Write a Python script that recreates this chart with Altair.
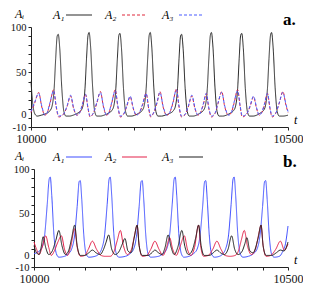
import altair as alt
import pandas as pd

# ---------------- data (t measured from 10000) ----------------
# Panel a
ta1 = [0, 3, 7, 12, 20,
       30, 37, 41, 45, 48, 51, 53, 56, 60, 64, 68, 75, 82,
       90, 97, 101, 105, 108, 111, 113, 116, 120, 124, 128, 135, 142,
       150, 157, 161, 165, 168, 171, 173, 176, 180, 184, 188, 195, 202,
       209, 216, 220, 224, 227, 230, 232, 235, 239, 243, 247, 254, 261,
       270, 277, 281, 285, 288, 291, 293, 296, 300, 304, 308, 315, 322,
       328, 335, 339, 343, 346, 349, 351, 354, 358, 362, 366, 373, 380,
       387, 394, 398, 402, 405, 408, 410, 413, 417, 421, 425, 432, 439,
       445, 452, 456, 460, 463, 466, 468, 471, 475, 479, 483, 490, 500]
va1 = [40, 18, 5, 2, 3,
       5, 8, 13, 32, 65, 90, 92, 76, 32, 7, 2, 2, 3,
       5, 8, 13, 32, 65, 91, 94, 78, 33, 7, 2, 2, 3,
       5, 8, 13, 32, 65, 91, 93, 77, 32, 7, 2, 2, 3,
       5, 8, 13, 32, 65, 91, 94, 78, 33, 7, 2, 2, 3,
       5, 8, 13, 32, 65, 90, 92, 76, 32, 7, 2, 2, 3,
       5, 8, 13, 32, 65, 91, 94, 78, 33, 7, 2, 2, 3,
       5, 8, 13, 32, 65, 91, 93, 77, 32, 7, 2, 2, 3,
       5, 8, 13, 32, 65, 91, 94, 78, 33, 7, 2, 2, 3]
ta23 = [0, 7, 15, 21, 27, 31, 37, 44, 49, 54, 63, 70, 77, 83, 89, 94, 100,
        106, 111, 115, 121, 128, 135, 141, 147, 151, 157, 164, 169, 174,
        180, 186, 193, 199, 205, 210, 217, 224, 229, 233, 238, 245, 251,
        257, 264, 269, 276, 283, 288, 293, 300, 306, 313, 319, 325, 329,
        335, 341, 346, 351, 358, 364, 371, 377, 384, 389, 395, 402, 407,
        411, 419, 426, 433, 439, 444, 448, 454, 460, 465, 469, 476, 483,
        490, 496, 500]
va2 = [6, 16, 28, 12, 3, 5, 16, 31, 12, 1, 4, 12, 24, 10, 3, 5, 14, 26, 10, 1,
       5, 16, 29, 12, 3, 5, 16, 31, 12, 1, 4, 12, 23, 10, 3, 5, 14, 27, 10, 1,
       5, 16, 29, 12, 3, 5, 16, 32, 12, 1, 4, 12, 24, 10, 3, 5, 14, 27, 10, 1,
       5, 16, 29, 12, 3, 5, 16, 31, 12, 1, 4, 12, 23, 10, 3, 5, 14, 27, 10, 1,
       5, 16, 29, 14, 6]
va3 = [7, 17, 27, 13, 3, 5, 17, 30, 13, 2, 4, 13, 25, 11, 3, 5, 15, 26, 11, 2,
       5, 17, 28, 13, 3, 5, 17, 30, 13, 2, 4, 13, 24, 11, 3, 5, 15, 27, 11, 2,
       5, 17, 28, 13, 3, 5, 17, 31, 13, 2, 4, 13, 25, 11, 3, 5, 15, 27, 11, 2,
       5, 17, 28, 13, 3, 5, 17, 30, 13, 2, 4, 13, 24, 11, 3, 5, 15, 27, 11, 2,
       5, 17, 28, 15, 7]

# Panel b
tb1 = [0, 8, 15, 21, 26, 30, 32, 35, 39, 44, 49, 60, 68, 74, 80, 85, 89, 91,
       94, 98, 103, 108, 120, 128, 133, 139, 144, 148, 150, 153, 157, 162,
       167, 180, 189, 196, 202, 207, 211, 213, 216, 220, 225, 230, 245, 254,
       261, 267, 272, 276, 278, 281, 285, 290, 295, 305, 314, 321, 327, 332,
       336, 338, 341, 345, 350, 355, 365, 372, 377, 383, 388, 392, 394, 397,
       401, 406, 411, 422, 432, 439, 445, 450, 454, 456, 459, 463, 468, 473,
       483, 490, 495, 500]
vb1 = [5, 7, 11, 26, 60, 89, 91, 70, 28, 5, 1, 2, 5, 10, 26, 58, 86, 87, 66,
       26, 4, 1, 2, 5, 10, 26, 60, 89, 91, 70, 28, 5, 1, 2, 5, 10, 26, 58, 86,
       87, 66, 26, 4, 1, 2, 5, 10, 26, 60, 89, 91, 70, 28, 5, 1, 2, 5, 10, 26,
       58, 86, 87, 66, 26, 4, 1, 2, 5, 10, 26, 60, 89, 91, 70, 28, 5, 1, 2, 5,
       10, 26, 58, 86, 87, 66, 26, 4, 1, 2, 8, 16, 36]
tb2 = [0, 5, 10, 16, 23, 29, 34, 40, 47, 54, 60, 66, 72, 80, 85, 92, 100, 107,
       115, 123, 132, 140, 150, 158, 164, 170, 176, 184, 192, 198, 203, 207,
       213, 222, 230, 238, 246, 254, 261, 267, 273, 280, 287, 296, 302, 309,
       316, 324, 328, 334, 343, 352, 360, 368, 376, 386, 396, 403, 408, 414,
       420, 428, 436, 442, 447, 451, 457, 466, 476, 485, 493, 500]
vb2 = [18, 10, 4, 12, 25, 12, 3, 8, 18, 25, 10, 3, 12, 33, 12, 2, 3, 10, 19,
       10, 3, 2, 2, 8, 20, 31, 14, 4, 10, 26, 37, 14, 2, 3, 10, 19, 10, 3, 12,
       23, 10, 3, 12, 25, 10, 3, 12, 37, 14, 2, 3, 10, 19, 10, 3, 2, 3, 9, 20,
       31, 14, 4, 10, 26, 37, 14, 2, 3, 10, 19, 9, 16]
tb3 = [0, 5, 10, 14, 18, 23, 29, 36, 43, 49, 55, 62, 68, 74, 80, 85, 91, 100,
       108, 115, 122, 130, 137, 142, 147, 153, 160, 168, 174, 179, 185, 191,
       197, 203, 207, 213, 225, 232, 238, 245, 252, 258, 264, 270, 276, 283,
       291, 297, 304, 311, 318, 324, 329, 335, 345, 353, 360, 367, 375, 382,
       389, 395, 402, 410, 415, 419, 425, 431, 441, 447, 451, 457, 468, 477,
       485, 492, 500]
vb3 = [14, 6, 4, 12, 24, 12, 4, 8, 20, 31, 14, 4, 8, 22, 37, 14, 3, 3, 6, 9,
       6, 4, 10, 18, 26, 10, 4, 8, 16, 22, 8, 6, 22, 37, 14, 3, 3, 6, 9, 6,
       4, 12, 26, 12, 4, 12, 31, 13, 4, 8, 22, 37, 14, 3, 3, 6, 9, 6, 4, 10,
       25, 10, 4, 8, 16, 23, 8, 6, 22, 37, 14, 3, 3, 6, 9, 8, 18]

series_names = ["A₁", "A₂", "A₃"]
colors_a = ["#2a2a2a", "#e0283c", "#4a5cff"]
colors_b = ["#3f4fff", "#e3224a", "#1e1e1e"]
t_start, t_end = 10000, 10500

FONT = "Liberation Serif"


def frame(pairs):
    rows = []
    for name, ts, vs in pairs:
        for t, v in zip(ts, vs):
            rows.append({"t": t_start + t, "v": v, "s": name})
    return pd.DataFrame(rows)


df_a = frame([(series_names[0], ta1, va1), (series_names[1], ta23, va2),
              (series_names[2], ta23, va3)])
df_b = frame([(series_names[0], tb1, vb1), (series_names[1], tb2, vb2),
              (series_names[2], tb3, vb3)])

x_axis = alt.Axis(
    title=None, values=list(range(t_start, t_end + 1, 50)), format="d",
    labelExpr=f"(datum.value == {t_start} || datum.value == {t_end}) ? datum.label : ''",
    tickSize=3, labelPadding=3, labelFontSize=12, labelFlush=False,
    labelOverlap=False)


def y_axis(offset=0):
    kw = dict(
        title=None, values=list(range(-10, 101, 10)),
        labelExpr="datum.value == -10 ? '-10' : ((datum.value == 100 || datum.value == 50 || datum.value == 0) ? datum.label : '')",
        labelBaseline={"condition": {"test": "datum.value == 0", "value": "alphabetic"},
                       "value": "middle"},
        tickSize=3, labelPadding=2, labelFontSize=10.5, labelOverlap=False,
        labelFlush=False)
    if offset:
        kw["offset"] = offset
    return alt.Axis(**kw)


def txt(s, x, y, size=12, style="italic", weight="normal", align="left"):
    return alt.Chart(pd.DataFrame({"s": [s]})).mark_text(
        align=align, baseline="middle", font=FONT, fontSize=size,
        fontStyle=style, fontWeight=weight, color="black"
    ).encode(x=alt.value(x), y=alt.value(y), text="s:N")


def seg(x1, x2, y, color, dash):
    return alt.Chart(pd.DataFrame({"s": ["k"]})).mark_rule(
        color=color, strokeWidth=1.2, strokeDash=dash
    ).encode(x=alt.value(x1), x2=alt.value(x2), y=alt.value(y))


def panel(df, colors, dashes, xrange, yoff, height, tag):
    lines = alt.Chart(df).mark_line(strokeWidth=1, interpolate="monotone").encode(
        x=alt.X("t:Q", scale=alt.Scale(domain=[t_start, t_end], nice=False,
                                       zero=False, range=xrange), axis=x_axis),
        y=alt.Y("v:Q", scale=alt.Scale(domain=[-10, 100], nice=False),
                axis=y_axis(yoff)),
        color=alt.Color("s:N", scale=alt.Scale(domain=series_names, range=colors),
                        legend=None),
        strokeDash=alt.StrokeDash("s:N", scale=alt.Scale(domain=series_names,
                                                         range=dashes), legend=None),
    )
    ly = -12
    layers = [lines,
              txt("Aᵢ", -16, ly - 1),
              txt(series_names[0], 22, ly), seg(35, 61, ly, colors[0], dashes[0]),
              txt(series_names[1], 74, ly), seg(91, 116, ly, colors[1], dashes[1]),
              txt(series_names[2], 131, ly), seg(148, 172, ly, colors[2], dashes[2]),
              txt(tag, 252, -7, size=17, style="normal", weight="bold"),
              txt("t", 263, height - 7)]
    return alt.layer(*layers).properties(width=257, height=height)


anchor = alt.Chart(pd.DataFrame({"s": ["k"]})).mark_rule(
    opacity=0, strokeWidth=0
).encode(x=alt.value(-23), x2=alt.value(-23), y=alt.value(-18), y2=alt.value(-18))

pa = panel(df_a, colors_a, [[1, 0], [3, 2], [3, 2]], [0, 257], 0, 100, "a.")
pa = alt.layer(pa, anchor)
pb = panel(df_b, colors_b, [[1, 0], [1, 0], [1, 0]], [3, 257], -3, 98, "b.")

chart = alt.vconcat(pa, pb, spacing=42, bounds="flush").resolve_scale(
    color="independent", strokeDash="independent"
).properties(
    padding={"left": 0, "top": 0, "right": 0, "bottom": 0}
).configure_view(stroke=None).configure_axis(
    grid=False, domainColor="#222", tickColor="#222", labelColor="#111",
    labelFont=FONT, domainWidth=1, tickWidth=1
)

chart.save("out.html", embed_options={"renderer": "svg", "actions": False})
